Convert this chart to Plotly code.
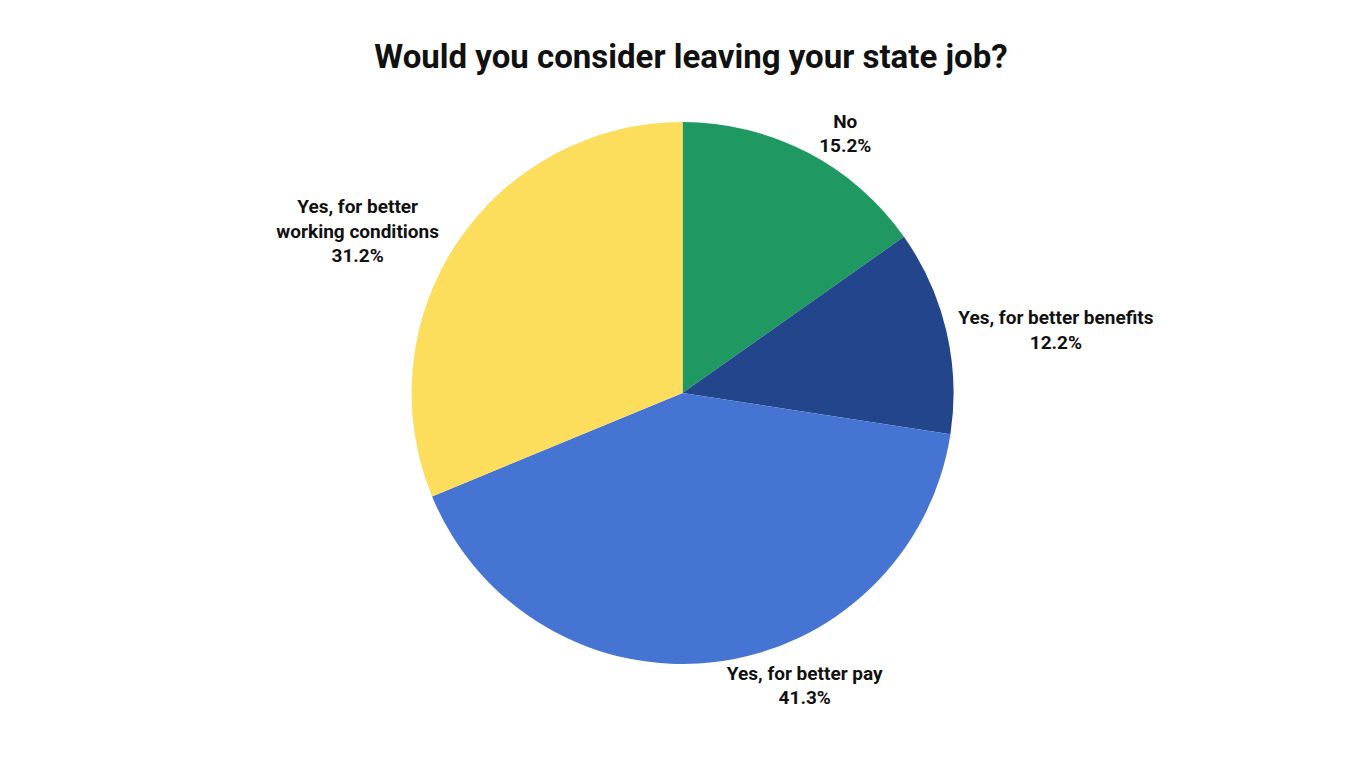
import plotly.graph_objects as go

# respuestas de la encuesta (%)
etiquetas = ['No', 'Yes, for better benefits', 'Yes, for better pay',
             'Yes, for better<br>working conditions']
valores = [15.2, 12.2, 41.3, 31.2]
colores = ['#1F9961', '#23458C', '#4674D2', '#FDDD5C']

fuente = 'Roboto'

fig = go.Figure()
fig.add_trace(go.Pie(
    labels=etiquetas,
    values=valores,
    sort=False,
    direction='clockwise',
    rotation=0,
    domain=dict(x=[0.28, 1], y=[0, 1]),
    marker=dict(colors=colores, line=dict(width=0)),
    textposition='outside',
    texttemplate='%{label}<br>%{percent:.1%}',
    textfont=dict(family=fuente, size=19, color='#111111', weight=700),
    hoverinfo='label+percent',
    showlegend=False,
))

fig.update_layout(
    title=dict(
        text='Would you consider leaving your state job?',
        x=0.5, xanchor='center', y=0.937, yanchor='middle',
        font=dict(family=fuente, size=33, color='#111111', weight=700),
    ),
    width=1366,
    height=768,
    margin=dict(t=114, b=112, l=0, r=0),
    paper_bgcolor='white',
    plot_bgcolor='white',
)
fig.write_html('out.html')
